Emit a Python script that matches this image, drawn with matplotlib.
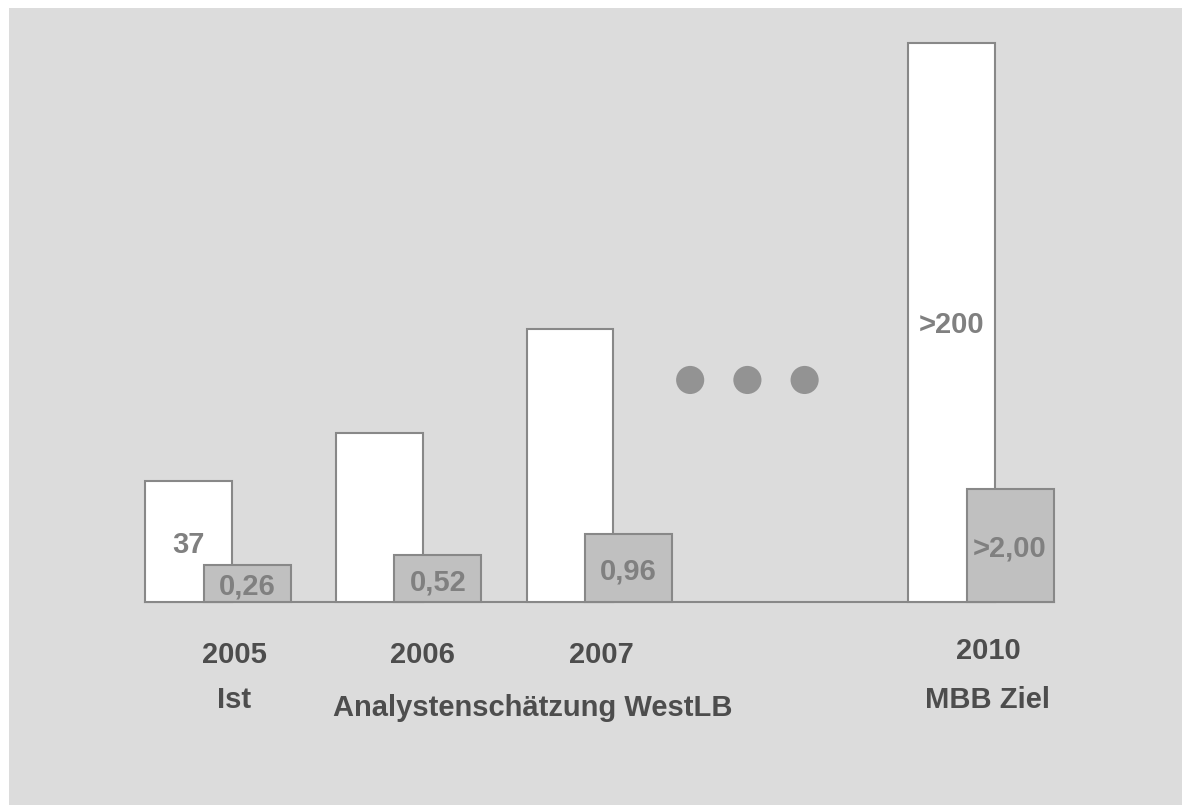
import matplotlib
matplotlib.use("Agg")
import matplotlib.pyplot as plt
from matplotlib.patches import Rectangle

# data
pos = [0, 1, 2, 4]
years = ["2005", "2006", "2007", "2010"]
white_vals = [37, 51.7, 83.5, 170.9]
grey_vals = [11.3, 14.4, 20.8, 34.6]
white_labels = ["37", "", "", ">200"]
grey_labels = ["0,26", "0,52", "0,96", ">2,00"]
dots_x = [2.63, 2.93, 3.23]

plt.rcParams["font.family"] = ["Liberation Sans", "DejaVu Sans"]
fig = plt.figure(figsize=(11.82, 8.05), dpi=100)
# grey panel behind everything (white strip top and left)
fig.patches.append(Rectangle((9 / 1182, 0), 1, (805 - 8) / 805, transform=fig.transFigure,
                             facecolor="#dcdcdc", edgecolor="none", zorder=-5))
ax = fig.add_axes([0, 0, 1, 1])
ax.set_facecolor("none")
ax.set_xlim(-0.9882, 5.2084)
ax.set_ylim(-62.08, 184.1)
ax.axis("off")

w = 0.456
off = 0.307
edge = "#888888"
ax.plot([pos[0] - w / 2, pos[-1] + off + w / 2], [0, 0], color=edge, lw=1.5, zorder=1)
ax.bar(pos, white_vals, width=w, color="white", edgecolor=edge, linewidth=1.5, zorder=2)
ax.bar([p + off for p in pos], grey_vals, width=w, color="#c0c0c0", edgecolor=edge,
       linewidth=1.5, zorder=3)

txt = dict(fontsize=21, fontweight="bold", ha="center", va="baseline")
val_col = "#808080"
ax.text(pos[0], 15.0, white_labels[0], color=val_col, **txt)
ax.text(pos[3], 82.3, white_labels[3], color=val_col, **txt)
grey_y = [2.2, 3.4, 6.8, 13.8]
for p, lab, y in zip(pos, grey_labels, grey_y):
    ax.text(p + off, y, lab, color=val_col, zorder=5, **txt)

ax.scatter(dots_x, [67.9] * 3, s=410, color="#939393", edgecolors="none", zorder=4)

cat_col = "#4d4d4d"
year_x = [0.242, 1.229, 2.166, 4.191]
year_y = [-18.65, -18.65, -18.65, -17.4]
for x, y, lab in zip(year_x, year_y, years):
    ax.text(x, y, lab, color=cat_col, **txt)
ax.text(0.237, -32.4, "Ist", color=cat_col, **txt)
ax.text(1.805, -34.9, "Analystenschätzung WestLB", color=cat_col, **txt)
ax.text(4.191, -32.4, "MBB Ziel", color=cat_col, **txt)

fig.savefig("out.png", dpi=100)
